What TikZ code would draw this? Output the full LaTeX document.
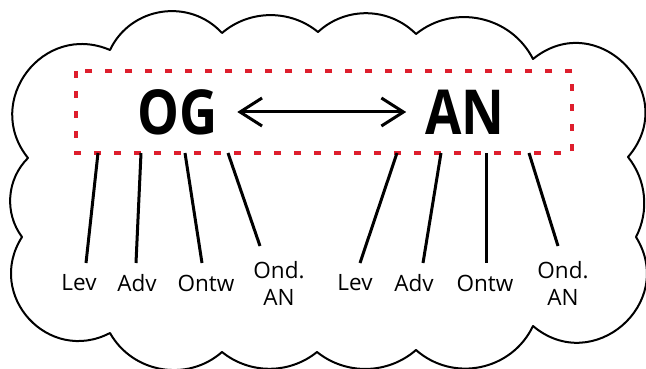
\documentclass[tikz,border=0pt]{standalone}
\usepackage{fontspec}
\setmainfont{Open Sans}
\usetikzlibrary{arrows.meta}
\definecolor{dashred}{RGB}{222,30,45}
\begin{document}
\begin{tikzpicture}[x=1pt,y=1pt,
  cloudline/.style={line width=2pt, line join=round},
  redbox/.style={draw=dashred, line width=3.5pt, dash pattern=on 7pt off 13pt},
  conn/.style={line width=3pt},
  lbl/.style={font=\fontsize{22.5}{27}\selectfont, align=center, inner sep=0pt},
  big/.style={font=\bfseries\fontsize{62}{62}\selectfont, inner sep=0pt},
  barb/.tip={Straight Barb[length=22pt,width=28pt]},
]
\useasboundingbox (0,0) rectangle (646,-369);
% cloud cusps
\coordinate (c1) at (110,-50);
\coordinate (c2) at (222,-33);
\coordinate (c3) at (318,-32);
\coordinate (c4) at (416,-34);
\coordinate (c5) at (533,-59);
\coordinate (c6) at (628,-157);
\coordinate (c7) at (636,-237);
\coordinate (c8) at (533,-326);
\coordinate (c9) at (416,-350);
\coordinate (c10) at (317,-352);
\coordinate (c11) at (222,-352);
\coordinate (c12) at (110,-333);
\coordinate (c13) at (22,-237);
\coordinate (c14) at (28,-158);
\draw[cloudline] (c1)
  to[bend left=56, looseness=1.09] (c2)
  to[bend left=40, looseness=0.96] (c3)
  to[bend left=44, looseness=0.99] (c4)
  to[bend left=51, looseness=1.04] (c5)
  to[bend left=85, looseness=1.56] (c6)
  to[bend left=33, looseness=0.93] (c7)
  to[bend left=81, looseness=1.47] (c8)
  to[bend left=53, looseness=1.06] (c9)
  to[bend left=40, looseness=0.96] (c10)
  to[bend left=39, looseness=0.96] (c11)
  to[bend left=51, looseness=1.04] (c12)
  to[bend left=75, looseness=1.36] (c13)
  to[bend left=41, looseness=0.97] (c14)
  to[bend left=76, looseness=1.37] (c1) -- cycle;
% red dashed box
\draw[redbox] (76,-71) rectangle (572,-153);
% big words
\node[big] (og) at (178,-112) {\scalebox{0.85}[1]{OG}};
\node[big] (an) at (465,-112) {\scalebox{0.85}[1]{AN}};
\draw[conn, barb-barb, shorten <=19pt, shorten >=19pt] (og.east) -- (an.west);
% labels
\node[lbl] (lev1) at (79,-283) {Lev};
\node[lbl] (adv1) at (137,-283) {Adv};
\node[lbl] (ontw1) at (206,-283) {Ontw};
\node[lbl] (ond1) at (279,-283.5) {Ond.\\AN};
\node[lbl] (lev2) at (355,-283) {Lev};
\node[lbl] (adv2) at (414,-283) {Adv};
\node[lbl] (ontw2) at (485,-283) {Ontw};
\node[lbl] (ond2) at (563,-283.5) {Ond.\\AN};
% connector ends
\coordinate (t1) at (98,-153);  \coordinate (b1) at (86,-263);
\coordinate (t2) at (141,-153); \coordinate (b2) at (136,-263);
\coordinate (t3) at (185,-153); \coordinate (b3) at (202,-263);
\coordinate (t4) at (228,-153); \coordinate (b4) at (260,-246);
\coordinate (t5) at (397,-153); \coordinate (b5) at (360,-263);
\coordinate (t6) at (441,-153); \coordinate (b6) at (423,-263);
\coordinate (t7) at (486,-153); \coordinate (b7) at (486,-263);
\coordinate (t8) at (529,-153); \coordinate (b8) at (558,-246);
\foreach \i in {1,...,8} {\draw[conn] (t\i) -- (b\i);}
\end{tikzpicture}
\end{document}
